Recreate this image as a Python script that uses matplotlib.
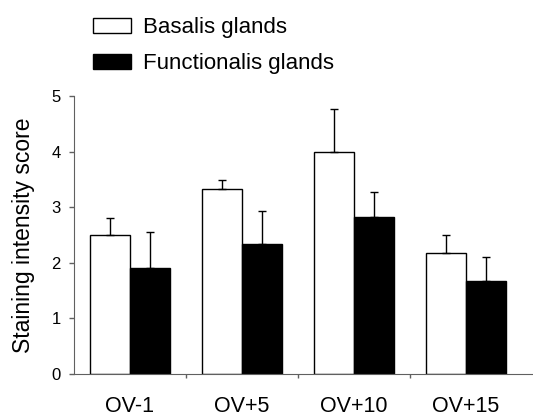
import numpy as np
import matplotlib
matplotlib.use('Agg')
import matplotlib.pyplot as plt

plt.rcParams['font.family'] = ['Liberation Sans', 'DejaVu Sans']

# 数据
groups = ['OV-1', 'OV+5', 'OV+10', 'OV+15']
basalis = [2.5, 3.33, 4.0, 2.17]
basalis_err = [0.3, 0.16, 0.76, 0.33]
functionalis = [1.9, 2.33, 2.83, 1.67]
functionalis_err = [0.65, 0.6, 0.45, 0.44]

axis_grey = '#606060'

fig = plt.figure(figsize=(5.33, 4.18), dpi=100)
ax = fig.add_axes([74 / 533, 44 / 418, 1 - 74 / 533, 278 / 418])

x = np.arange(len(groups))
w = 0.36
xb = x + 0.14 + w / 2
xf = x + 0.14 + w * 1.5

ax.bar(xb, basalis, w, color='white', edgecolor='black', linewidth=1, label='Basalis glands', zorder=2)
ax.bar(xf, functionalis, w, color='black', edgecolor='black', linewidth=1, label='Functionalis glands', zorder=2)

# 只画上半部分误差线
ax.errorbar(xb, basalis, yerr=[np.zeros(len(groups)), basalis_err], fmt='none',
            ecolor='black', elinewidth=1, capsize=3, capthick=1, zorder=3)
ax.errorbar(xf, functionalis, yerr=[np.zeros(len(groups)), functionalis_err], fmt='none',
            ecolor='black', elinewidth=1, capsize=3, capthick=1, zorder=3)

ax.set_xlim(0, (533 - 74) / 112)
ax.set_ylim(0, 5)

ax.spines['top'].set_visible(False)
ax.spines['right'].set_visible(False)
ax.spines['left'].set_color(axis_grey)
ax.spines['bottom'].set_color(axis_grey)

ax.set_yticks(range(0, 6))
ax.tick_params(axis='y', direction='out', length=3.6, width=1, color=axis_grey, labelsize=12, pad=6)

ax.set_xticks(x + 0.5)
ax.set_xticklabels(groups)
ax.set_xticks([1, 2, 3], minor=True)
ax.tick_params(axis='x', which='major', length=0, labelsize=15.5, pad=16)
ax.tick_params(axis='x', which='minor', direction='out', length=3, width=1, color=axis_grey)

ax.set_ylabel('Staining intensity score', fontsize=16.5, labelpad=12)

fig.legend(loc='upper left', bbox_to_anchor=(93 / 533, 1 - 17 / 418), frameon=False,
           fontsize=16, handlelength=1.72, handleheight=0.65, handletextpad=0.55,
           labelspacing=0.67, borderpad=0, borderaxespad=0)

fig.savefig('out.png', dpi=100)
